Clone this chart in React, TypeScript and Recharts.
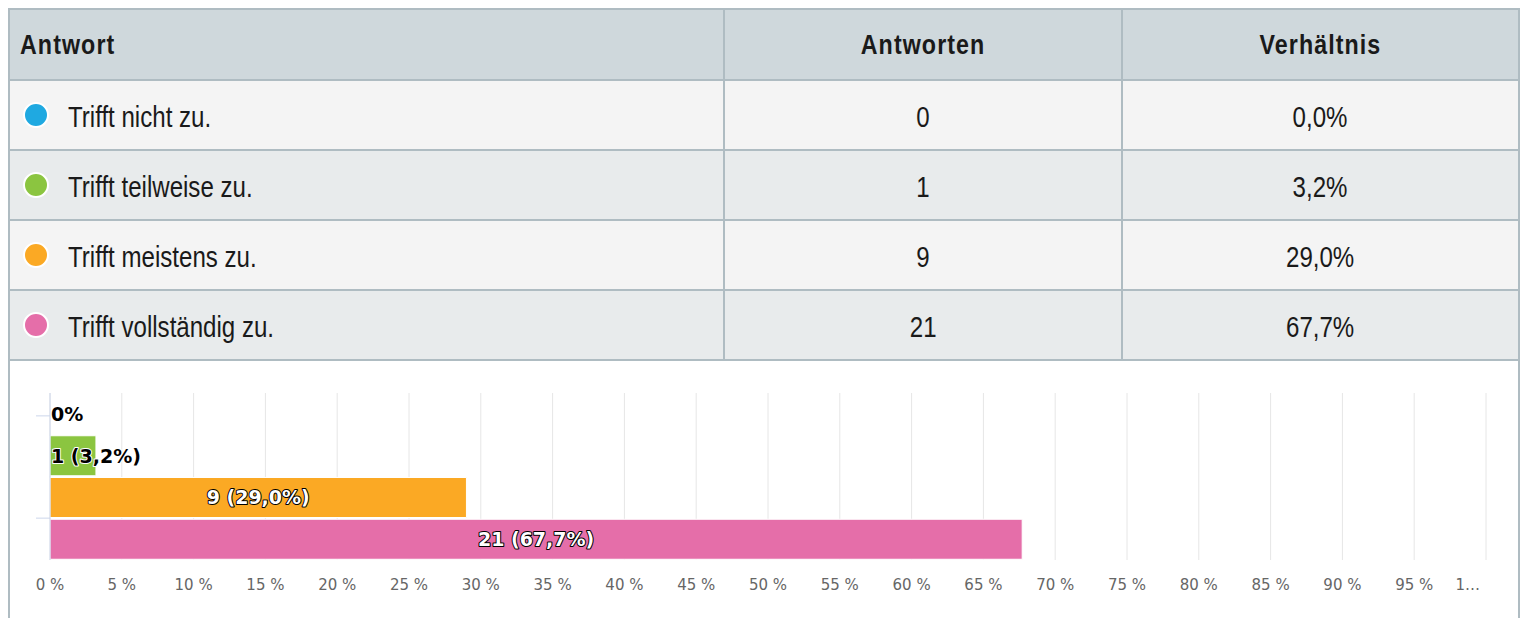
import { BarChart, Bar, XAxis, YAxis, CartesianGrid, Cell, LabelList } from 'recharts';

const ANSWERS = ['Trifft nicht zu.', 'Trifft teilweise zu.', 'Trifft meistens zu.', 'Trifft vollständig zu.'];
const COUNTS = [0, 1, 9, 21];
const SHARES = [0.0, 3.2, 29.0, 67.7];
const COLORS = ['#1fa9e1', '#8bc540', '#fba924', '#e56ea9'];
const X_TICKS = [0, 5, 10, 15, 20, 25, 30, 35, 40, 45, 50, 55, 60, 65, 70, 75, 80, 85, 90, 95, 100];
const X_TICK_LABELS = ['0 %', '5 %', '10 %', '15 %', '20 %', '25 %', '30 %', '35 %', '40 %', '45 %', '50 %',
  '55 %', '60 %', '65 %', '70 %', '75 %', '80 %', '85 %', '90 %', '95 %', '1…'];

const fmtShare = (v: number) => v.toFixed(1).replace('.', ',') + '%';

const data = ANSWERS.map((name, i) => ({ name, count: COUNTS[i], share: SHARES[i], color: COLORS[i] }));

const BORDER = '#afbcc2';
const ROW_BG = ['#f4f4f4', '#e8ebec'];
const TABLE_FONT = '"Liberation Sans", Arial, sans-serif';
const TEXT = '#1a1a1a';

const cellBase: React.CSSProperties = {
  display: 'flex', alignItems: 'center', boxSizing: 'border-box',
};

// narrow look of the original font: squeeze Liberation Sans horizontally
function Narrow({ children, origin = 'center', shift = 0 }: { children: React.ReactNode; origin?: string; shift?: number }) {
  return (
    <span style={{ display: 'inline-block', position: 'relative', top: shift, transform: 'scaleX(0.83)', transformOrigin: origin, whiteSpace: 'nowrap' }}>
      {children}
    </span>
  );
}

const labelStyle = {
  fontFamily: 'DejaVu Sans',
  fontWeight: 'bold' as const,
  fontSize: 19,
  strokeWidth: 2,
  strokeLinejoin: 'round' as const,
  paintOrder: 'stroke',
};

function BarLabel(props: any) {
  const { x, y, width, height, value } = props;
  const idx = SHARES.indexOf(value);
  if (idx < 0 || COUNTS[idx] === 0) return null;
  const text = `${COUNTS[idx]} (${fmtShare(SHARES[idx])})`;
  const inside = width > 150;
  return (
    <text
      x={inside ? x + width / 2 : x + 1}
      y={y + height / 2}
      dy="0.36em"
      textAnchor={inside ? 'middle' : 'start'}
      fill={inside ? '#fff' : '#000'}
      stroke={inside ? '#000' : '#fff'}
      {...labelStyle}
    >
      {text}
    </text>
  );
}

function YTick(props: any) {
  const { x, y, index } = props;
  // only two ticks show in the original: first band centre and top of last band
  if (index === 0) {
    return (
      <g>
        <line x1={x - 14} x2={x} y1={y + 2} y2={y + 2} stroke="#ccd6eb" />
        {COUNTS[0] === 0 && (
          <text x={x + 1} y={y} dy="0.36em" fill="#000" stroke="#fff" {...labelStyle}>0%</text>
        )}
      </g>
    );
  }
  if (index === 3) return <line x1={x - 14} x2={x} y1={y - 21} y2={y - 21} stroke="#ccd6eb" />;
  return <g />;
}

function XTick(props: any) {
  const { x, y, index } = props;
  const last = index === X_TICKS.length - 1;
  // the last label is cut short ("1…") and pulled inside the plot
  return (
    <text x={last ? x - 6 : x} y={y} dy="0.71em" textAnchor={last ? 'end' : 'middle'}
      fill="#666" fontSize={15} fontFamily="DejaVu Sans">
      {X_TICK_LABELS[index]}
    </text>
  );
}

export default function App() {
  return (
    <div style={{ margin: '8px 0 0 8px', width: 1512, height: 610, overflow: 'hidden', border: `2px solid ${BORDER}`, borderBottom: 'none', boxSizing: 'border-box', background: '#fff' }}>
      <style>{'html,body{margin:0;overflow:hidden}'}</style>
      <div style={{ display: 'flex', height: 71, background: '#cfd8dc', borderBottom: `2px solid ${BORDER}`, boxSizing: 'border-box', fontFamily: TABLE_FONT, fontWeight: 'bold', fontSize: 28, letterSpacing: 1.3, color: TEXT }}>
        <div style={{ ...cellBase, width: 715, paddingLeft: 10, borderRight: `2px solid ${BORDER}` }}><Narrow origin="left">Antwort</Narrow></div>
        <div style={{ ...cellBase, width: 398, justifyContent: 'center', borderRight: `2px solid ${BORDER}` }}><Narrow>Antworten</Narrow></div>
        <div style={{ ...cellBase, flex: 1, justifyContent: 'center' }}><Narrow>Verhältnis</Narrow></div>
      </div>
      {data.map((d, i) => (
        <div key={d.name} style={{ display: 'flex', height: 70, background: ROW_BG[i % 2], borderBottom: `2px solid ${BORDER}`, boxSizing: 'border-box', fontFamily: TABLE_FONT, fontSize: 29, color: TEXT }}>
          <div style={{ ...cellBase, width: 715, paddingLeft: 13, borderRight: `2px solid ${BORDER}` }}>
            <span style={{ flexShrink: 0, width: 22, height: 22, borderRadius: '50%', background: d.color, border: '2px solid #fff', marginRight: 19 }} />
            <Narrow origin="left" shift={2}>{d.name}</Narrow>
          </div>
          <div style={{ ...cellBase, width: 398, justifyContent: 'center', borderRight: `2px solid ${BORDER}` }}><Narrow shift={2}>{d.count}</Narrow></div>
          <div style={{ ...cellBase, flex: 1, justifyContent: 'center' }}><Narrow shift={2}>{fmtShare(d.share)}</Narrow></div>
        </div>
      ))}
      <BarChart
        width={1508}
        height={257}
        data={data}
        layout="vertical"
        margin={{ top: 32, right: 32, bottom: 18, left: 0 }}
        barSize={40}
      >
        <CartesianGrid horizontal={false} stroke="#e6e6e6" strokeWidth={1} />
        <XAxis
          type="number"
          domain={[0, 100]}
          ticks={X_TICKS}
          axisLine={false}
          tickLine={false}
          tickSize={6}
          tickMargin={13}
          height={40}
          interval={0}
          tick={<XTick />}
        />
        <YAxis
          type="category"
          dataKey="name"
          width={40}
          axisLine={{ stroke: '#ccd6eb' }}
          tickLine={false}
          tickSize={0}
          tickMargin={0}
          tick={<YTick />}
          interval={0}
        />
        <Bar dataKey="share" isAnimationActive={false} stroke="#fff" strokeWidth={1}>
          {data.map((d) => (
            <Cell key={d.name} fill={d.color} />
          ))}
          <LabelList dataKey="share" content={<BarLabel />} />
        </Bar>
      </BarChart>
    </div>
  );
}
